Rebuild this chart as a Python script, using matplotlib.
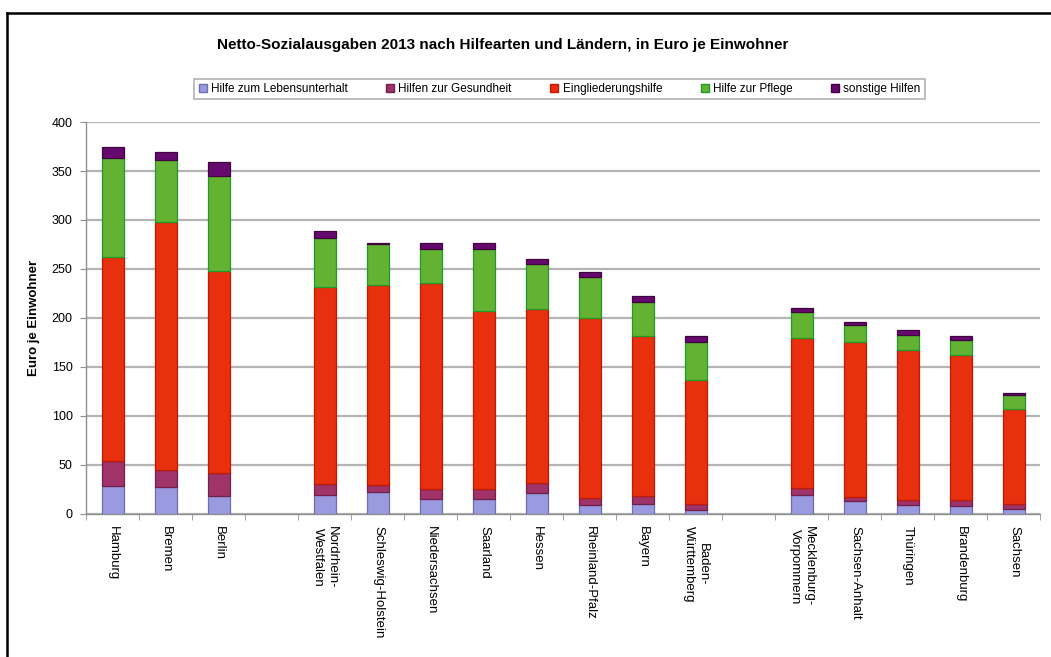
import matplotlib.pyplot as plt
import numpy as np
from matplotlib.lines import Line2D

plt.rcParams['font.family'] = ['Liberation Sans', 'DejaVu Sans']

# three groups of Laender, a blank slot between groups
groups = [
    ["Hamburg", "Bremen", "Berlin"],
    ["Nordrhein-\nWestfalen", "Schleswig-Holstein", "Niedersachsen", "Saarland",
     "Hessen", "Rheinland-Pfalz", "Bayern", "Baden-\nWürttemberg"],
    ["Mecklenburg-\nVorpommern", "Sachsen-Anhalt", "Thüringen", "Brandenburg", "Sachsen"],
]

seriesNames = ["Hilfe zum Lebensunterhalt", "Hilfen zur Gesundheit", "Eingliederungshilfe",
               "Hilfe zur Pflege", "sonstige Hilfen"]

# Euro je Einwohner, in the order of the groups above
lebensunterhalt = [29, 28, 18,  19, 22, 15, 15, 21, 9, 10, 4,  19, 13, 9, 8, 5]
gesundheit      = [25, 17, 24,  12, 8, 10, 10, 11, 7, 8, 6,  8, 4, 5, 6, 5]
eingliederung   = [208, 253, 206,  201, 204, 211, 182, 177, 184, 164, 127,  153, 159, 153, 148, 97]
pflege          = [101, 63, 97,  50, 41, 34, 63, 46, 42, 34, 39,  26, 17, 16, 16, 14]
sonstige        = [11, 8, 14,  7, 2, 7, 7, 5, 5, 6, 6,  4, 3, 5, 4, 2]

colors = ["#9a9ae0", "#a0336a", "#e8300e", "#64b232", "#66096e"]
edges = ["#6e6eb0", "#70204a", "#c01a05", "#1e9a2a", "#40043f"]

labels = []
positions = []
slot = 0
for g in groups:
    for name in g:
        labels.append(name)
        positions.append(slot)
        slot += 1
    slot += 1
nSlots = slot - 1
positions = np.array(positions)

fig = plt.figure(figsize=(10.51, 6.57), dpi=100)
ax = fig.add_axes([0.0823, 0.2177, 0.9077, 0.5966])

bottom = np.zeros(len(labels))
for vals, name, c, e in zip([lebensunterhalt, gesundheit, eingliederung, pflege, sonstige],
                            seriesNames, colors, edges):
    vals = np.array(vals, dtype=float)
    ax.bar(positions, vals, 0.42, bottom=bottom, color=c, edgecolor=e, linewidth=0.9,
           label=name, zorder=3)
    bottom += vals

ax.set_xlim(-0.5, nSlots - 0.5)
ax.set_ylim(0, 400)
ax.set_yticks(np.arange(0, 401, 50))
ax.yaxis.grid(True, color="#b4b4b4", linewidth=1.6, zorder=0)
ax.tick_params(axis='y', labelsize=9, length=4, color="#909090", pad=6)

ax.set_xticks(positions)
ax.set_xticklabels(labels, rotation=270, fontsize=9.5, ha='center', va='top',
                   multialignment='center')
ax.set_xticks(np.arange(-0.5, nSlots, 1.0), minor=True)
ax.tick_params(axis='x', which='major', length=0, pad=9)
ax.tick_params(axis='x', which='minor', length=4, color="#909090")

for s in ['top', 'right']:
    ax.spines[s].set_visible(False)
for s in ['left', 'bottom']:
    ax.spines[s].set_color("#909090")
    ax.spines[s].set_linewidth(1.0)

ax.set_ylabel("Euro je Einwohner", fontsize=9.5, fontweight='bold', labelpad=8)

fig.text(0.478, 0.931, "Netto-Sozialausgaben 2013 nach Hilfearten und Ländern, in Euro je Einwohner",
         ha='center', va='center', fontsize=11, fontweight='bold')

handles = [Line2D([], [], marker='s', linestyle='none', markersize=6,
                  markerfacecolor=c, markeredgecolor=e) for c, e in zip(colors, edges)]
leg = fig.legend(handles, seriesNames, loc='center', bbox_to_anchor=(0.532, 0.864), ncol=5,
                 fontsize=8.5, frameon=True, fancybox=False, handlelength=0.8,
                 handletextpad=0.3, columnspacing=3.2, borderpad=0.35)
leg.get_frame().set_edgecolor("#a0a0a0")
leg.get_frame().set_linewidth(1.2)

# frame around the chart (left and top visible)
fig.add_artist(Line2D([0.0067, 0.0067], [0.0, 0.980], color='black', linewidth=1.8))
fig.add_artist(Line2D([0.0067, 1.0], [0.980, 0.980], color='black', linewidth=1.8))

fig.savefig("out.png", dpi=100)
